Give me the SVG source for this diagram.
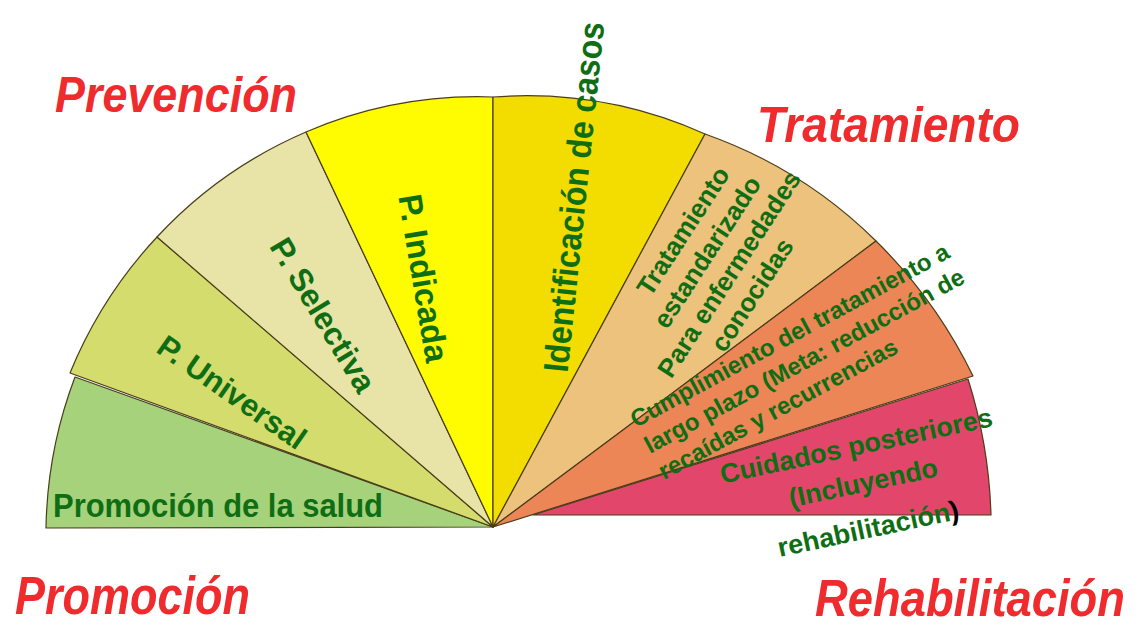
<svg xmlns="http://www.w3.org/2000/svg" width="1142" height="627" viewBox="0 0 1142 627">
  <style>
    .sec { stroke: #4a3d1a; stroke-width: 1.2; stroke-linejoin: round; }
    .lbl { font-family: "Liberation Sans", Arial, sans-serif; font-weight: bold; fill: #0f6e14; }
    .ttl { font-family: "Liberation Sans", Arial, sans-serif; font-weight: bold; font-style: italic; fill: #ef2b2d; }
  </style>
  <rect width="1142" height="627" fill="#ffffff"/>
  <g id="sectors">
    <g id="promocion-salud"><path class="sec" fill="#a6d27c" d="M493,527 L46,528 A446,446 0 0 1 75,377 Z"/></g>
    <g id="p-universal"><path class="sec" fill="#d3dc6c" d="M493,527 L70,373 A447,447 0 0 1 157,237 Z"/></g>
    <g id="p-selectiva"><path class="sec" fill="#e8e4a8" d="M493,527 L157,237 A440,440 0 0 1 306,132 Z"/></g>
    <g id="p-indicada"><path class="sec" fill="#fffb00" d="M493,527 L306,132 A434,434 0 0 1 493,97 Z"/></g>
    <g id="identificacion"><path class="sec" fill="#f3dd00" d="M493,527 L493,97 A438,438 0 0 1 705,134 Z"/></g>
    <g id="tratamiento-estandarizado"><path class="sec" fill="#ecc27d" d="M493,527 L705,134 A462,462 0 0 1 876,241 Z"/></g>
    <g id="cumplimiento"><path class="sec" fill="#ec8656" d="M493,527 L876,241 A490,490 0 0 1 973,376 Z"/></g>
    <g id="cuidados"><path class="sec" fill="#e3466b" d="M533,515 L968,379 A500,500 0 0 1 991,515 Z"/></g>
  </g>
  <g id="connectors"></g>
  <g id="labels">
    <text class="lbl" x="53" y="517" font-size="34" textLength="330" lengthAdjust="spacingAndGlyphs">Promoción de la salud</text>
    <text class="lbl" font-size="31" text-anchor="middle" transform="translate(232,392) rotate(35)" y="11">P. Universal</text>
    <text class="lbl" font-size="32" text-anchor="middle" transform="translate(323,315) rotate(59)" y="11">P. Selectiva</text>
    <text class="lbl" font-size="33" text-anchor="middle" transform="translate(424,278) rotate(80.5)" y="12">P. Indicada</text>
    <text class="lbl" font-size="35" text-anchor="middle" transform="translate(574,197) rotate(-84)" y="12" textLength="352" lengthAdjust="spacingAndGlyphs">Identificación de casos</text>
    <text class="lbl" font-size="26" text-anchor="middle" transform="translate(683,231) rotate(-57)" y="9">Tratamiento</text>
    <text class="lbl" font-size="26" text-anchor="middle" transform="translate(707,252) rotate(-57)" y="9">estandarizado</text>
    <text class="lbl" font-size="26" text-anchor="middle" transform="translate(729,274) rotate(-57)" y="9">Para enfermedades</text>
    <text class="lbl" font-size="26" text-anchor="middle" transform="translate(752,295) rotate(-57)" y="9">conocidas</text>
    <text class="lbl" font-size="24" transform="translate(636,428) rotate(-28.5)">Cumplimiento  del tratamiento a</text>
    <text class="lbl" font-size="24" transform="translate(650,454) rotate(-28.5)">largo plazo (Meta: reducción de</text>
    <text class="lbl" font-size="24" transform="translate(664,480) rotate(-28.5)">recaídas y recurrencias</text>
    <text class="lbl" font-size="27" text-anchor="middle" transform="translate(856,445) rotate(-12)" y="10">Cuidados posteriores</text>
    <text class="lbl" font-size="27" text-anchor="middle" transform="translate(863,482) rotate(-12)" y="10">(Incluyendo</text>
    <text class="lbl" font-size="27" text-anchor="middle" transform="translate(868,528) rotate(-12)" y="10">rehabilitación<tspan fill="#000000">)</tspan></text>
  </g>
  <g id="titles">
    <text class="ttl" x="55" y="112" font-size="50" textLength="242" lengthAdjust="spacingAndGlyphs">Prevención</text>
    <text class="ttl" x="757" y="142" font-size="50" textLength="263" lengthAdjust="spacingAndGlyphs">Tratamiento</text>
    <text class="ttl" x="15" y="614" font-size="53" textLength="235" lengthAdjust="spacingAndGlyphs">Promoción</text>
    <text class="ttl" x="815" y="616" font-size="52" textLength="310" lengthAdjust="spacingAndGlyphs">Rehabilitación</text>
  </g>
</svg>
